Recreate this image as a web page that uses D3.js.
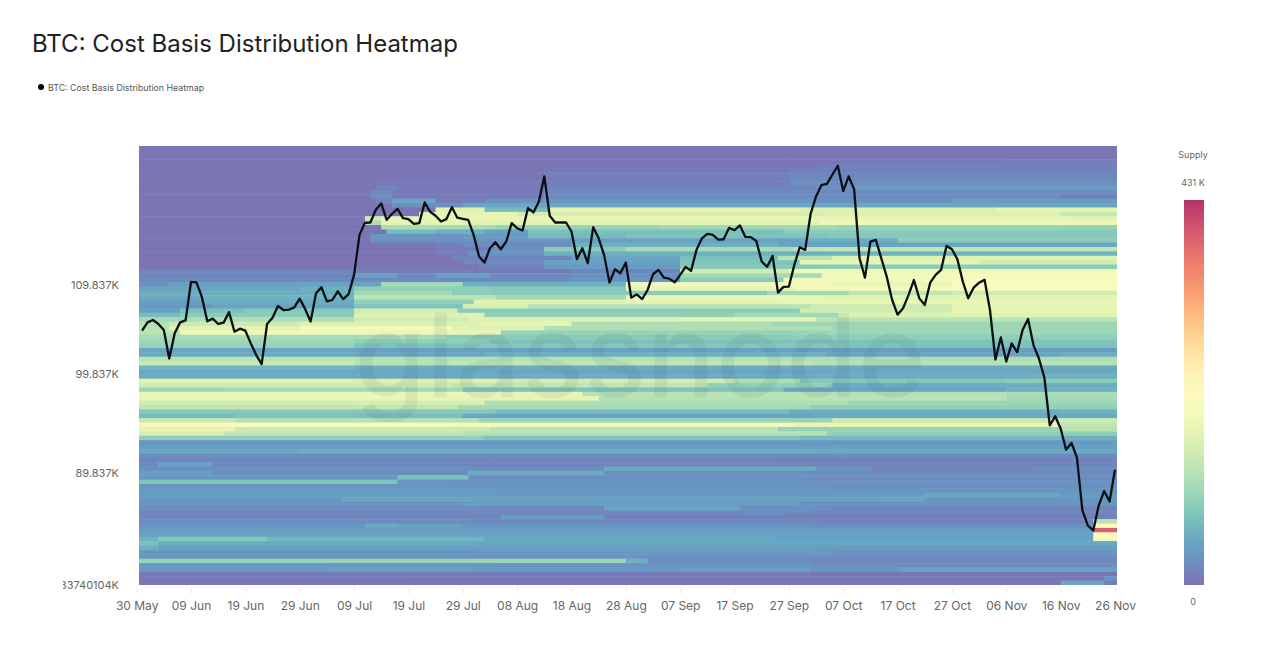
<!DOCTYPE html>
<html>
<head>
<meta charset="utf-8">
<title>BTC: Cost Basis Distribution Heatmap</title>
<script src="https://cdn.jsdelivr.net/npm/d3@7"></script>
<style>
  body { margin: 0; background: #fff; }
  svg { display: block; font-family: Inter, "Noto Sans", sans-serif; }
</style>
</head>
<body>
<svg id="chart" width="1280" height="651"></svg>
<script>
const chartTitle = "BTC: Cost Basis Distribution Heatmap";

// Daily BTC price in thousands of USD, one value per day from 31 May 2025 to 26 Nov 2025.
const priceK = [
	104.61, 105.54, 105.81, 105.36, 104.68, 101.55, 104.31, 105.54, 105.77, 110.19,
	110.15, 108.45, 105.66, 105.96, 105.36, 105.51, 106.70, 104.50, 104.83, 104.61,
	103.20, 101.92, 100.94, 105.36, 106.07, 107.40, 106.94, 106.98, 107.24, 108.25,
	107.05, 105.62, 108.86, 109.57, 107.93, 108.09, 109.10, 108.20, 108.78, 111.02,
	115.87, 117.37, 117.41, 119.02, 119.83, 117.75, 118.51, 119.14, 117.96, 117.84,
	117.25, 117.33, 119.95, 118.76, 118.26, 117.54, 117.84, 119.35, 118.01, 117.88,
	117.75, 115.87, 113.22, 112.50, 114.23, 114.97, 114.11, 115.05, 117.33, 116.70,
	116.41, 119.23, 118.68, 120.08, 123.33, 118.26, 117.41, 117.41, 117.41, 116.29,
	112.90, 114.23, 112.42, 116.83, 115.45, 113.42, 110.11, 111.70, 111.22, 112.50,
	108.36, 108.74, 108.20, 109.25, 111.10, 111.62, 110.70, 110.58, 110.15, 111.02,
	111.98, 111.50, 114.03, 115.45, 116.00, 115.87, 115.29, 115.33, 116.74, 116.45,
	117.04, 115.62, 115.58, 115.13, 112.62, 111.98, 113.30, 108.94, 109.61, 109.65,
	112.22, 114.35, 114.03, 118.51, 120.72, 122.19, 122.36, 123.55, 124.74, 121.41,
	123.33, 121.67, 113.02, 110.70, 115.05, 115.25, 113.02, 110.82, 108.09, 106.41,
	107.13, 108.66, 110.42, 108.28, 107.51, 110.11, 111.02, 111.62, 114.51, 114.11,
	112.90, 110.23, 108.28, 109.53, 110.11, 110.46, 106.94, 101.44, 103.86, 101.22,
	103.20, 102.24, 104.68, 105.92, 103.01, 101.55, 99.52, 94.56, 95.48, 94.23,
	92.13, 92.79, 91.35, 86.35, 84.97, 84.52, 86.80, 88.15, 87.18, 90.19
];

// Supply per cost basis bin in thousands, top bin first.
// Each row lists pairs: day since 30 May where a level starts, then that level.
const supplyRows = [
	[0,2,160,5],
	[0,2],
	[0,2,120,4],
	[0,2,130,8,160,12],
	[0,2,68,3,125,14],
	[0,2,75,6,120,16],
	[0,2,75,12,118,20],
	[0,2,44,4,75,13,120,22],
	[0,2,44,8,70,12,120,28],
	[0,2,44,18,48,6,75,20,125,30,132,44],
	[0,2,43,22,47,8,75,22,130,26],
	[0,2,43,24,47,8,75,22,125,24,170,14],
	[0,2,44,18,47,50,55,12,64,30,75,34,125,30,150,42],
	[0,2,47,28,60,50,127,48],
	[0,2,55,165,64,70,76,170,122,160,158,170],
	[0,2,52,170,70,155,127,160,170,140],
	[0,2,42,150,45,175,119,175,172,165],
	[0,2,42,120,45,170,126,185],
	[0,2,45,115,66,100,96,108,129,100],
	[0,2,46,70,55,60,64,45,72,75,119,90,170,85],
	[0,2,43,35,55,30,60,40,72,70,90,80,127,85],
	[0,2,43,25,55,30,66,35,80,45,122,55,140,90],
	[0,2,44,10,55,14,60,25,80,60,118,48],
	[0,2,55,10,65,30,75,90,90,115,121,135],
	[0,2,55,10,61,30,75,60,126,62],
	[0,2,58,20,80,50,100,75,118,130,128,165],
	[0,2,60,22,75,45,100,80,122,170,155,150],
	[0,2,63,18,75,40,100,85,127,90],
	[0,18,40,12,62,8,80,20,100,150,120,185],
	[0,20,40,45,48,22,55,45,65,22,80,30,100,110,126,190,150,200],
	[0,22,40,25,80,35,100,90,119,190,150,210],
	[0,30,6,45,45,110,60,60,90,190,128,180,150,205],
	[0,50,30,60,40,95,65,85,90,170,121,190,150,200],
	[0,58,40,110,58,90,116,110,131,135,150,150],
	[0,52,12,62,40,130,66,110,90,180,126,170],
	[0,42,12,55,40,95,62,165,92,170,119,175],
	[0,38,14,48,40,80,60,155,72,130,124,145,150,170],
	[0,45,8,75,20,85,40,150,59,90,122,150,150,175],
	[0,72,8,90,40,165,64,95,110,110,129,165],
	[0,110,10,120,40,150,61,165,100,170,125,130],
	[0,125,6,145,30,160,63,170,80,120,117,105],
	[0,130,6,170,30,190,58,165,75,120,128,105],
	[0,130,8,185,34,180,67,100,123,105],
	[0,115,57,90,120,95],
	[0,105,40,95,65,80],
	[0,100,40,80,60,85,130,80],
	[0,48,40,45,121,42],
	[0,52,40,50,64,60,127,48,170,55],
	[0,130,40,125,118,120],
	[0,140,40,130,58,135,124,125],
	[0,65,40,55,129,52],
	[0,52,66,50,124,52],
	[0,52,60,55,165,60],
	[0,165,40,160,66,150,110,120,122,85,160,90],
	[0,150,58,135,105,95,128,55],
	[0,105,16,110,60,80,119,50,160,60],
	[0,180,68,175,82,130,126,125,160,115],
	[0,175,56,170,85,125,121,130,160,110],
	[0,150,40,155,64,120,131,105],
	[0,135,59,112,124,95],
	[0,85,66,70,120,55,170,60],
	[0,70,18,80,40,75,60,48,124,52],
	[0,140,18,125,63,100,128,145],
	[0,225,20,200,57,190,121,175,170,135],
	[0,170,18,145,65,130,118,100,170,130],
	[0,160,16,135,60,125,127,95],
	[0,95,64,80,122,70,170,60],
	[0,36,120,38],
	[0,40,128,44],
	[0,52,30,58,124,54],
	[0,26,58,24,130,25],
	[0,21,66,19,118,17],
	[0,23,4,46,14,21,60,19,126,15],
	[0,29,62,24,86,52,125,33,135,18,165,28],
	[0,42,14,24,61,54,86,28,124,23],
	[0,34,48,75,61,29,124,25],
	[0,80,48,34,122,32],
	[0,34,58,32,127,28],
	[0,40,66,33],
	[0,40,145,50,170,40],
	[0,35,38,48,62,44,137,50,145,34],
	[0,36,60,42,121,34],
	[0,24,64,22,86,48,111,29,128,19],
	[0,20,58,18,111,24,124,18],
	[0,19,67,42,86,16,119,14],
	[0,26,62,20,126,16,176,130],
	[0,34,42,52,48,46,60,34,124,29,176,205],
	[0,40,176,390],
	[0,44,176,210],
	[0,62,4,85,24,64,64,50,118,45,176,190],
	[0,75,4,54,62,49],
	[0,60,4,46,58,44,124,42],
	[0,36,128,32],
	[0,34,62,32,120,26],
	[0,100,62,105,90,60,94,28,124,22],
	[0,36,66,32,124,24],
	[0,38,35,42,62,38,100,42,124,34,140,45],
	[0,8,124,4],
	[0,5,50,4,178,35],
	[0,5,170,50,178,8]
];

const xTickDays = d3.range(0, 181, 10);
const yTickValues = [109.837, 99.837, 89.837, 79.74];
const yTickLabels = ["109.837K", "99.837K", "89.837K", "83740104K"];
const supplyMax = 431;
const supplyLabels = ["431 K", "0"];

const plot = { left: 139, right: 1117, top: 146, bottom: 585 };
const startDate = new Date(Date.UTC(2025, 4, 30));
const dayToDate = d => d3.utcDay.offset(startDate, d);

const svg = d3.select("#chart");

// 30 May falls a little left of the plot, the heatmap is clipped to the plot box.
const x = d3.scaleUtc()
	.domain([startDate, dayToDate(180)])
	.range([136.65, 1115]);
const y = d3.scaleLog()
	.domain([79.74, 127.4])
	.range([plot.bottom, plot.top]);
const rowBand = d3.scaleBand()
	.domain(d3.range(supplyRows.length))
	.range([plot.top, plot.bottom]);
const color = d3.scaleSequential(t => d3.interpolateSpectral(1 - t))
	.domain([0, supplyMax]);

const defs = svg.append("defs");
defs.append("clipPath").attr("id", "plotClip")
	.append("rect")
	.attr("x", plot.left).attr("y", plot.top)
	.attr("width", plot.right - plot.left).attr("height", plot.bottom - plot.top);
defs.append("clipPath").attr("id", "labelClip")
	.append("rect")
	.attr("x", 63).attr("y", 270)
	.attr("width", 70).attr("height", 330);
defs.append("filter").attr("id", "soft")
	.attr("x", "-1%").attr("y", "-1%").attr("width", "102%").attr("height", "102%")
	.append("feGaussianBlur").attr("stdDeviation", 0.7);

svg.append("text")
	.attr("x", 32).attr("y", 52)
	.attr("font-size", 24)
	.attr("fill", "#222")
	.text(chartTitle);

// legend
svg.append("circle")
	.attr("cx", 41).attr("cy", 87).attr("r", 3)
	.attr("fill", "#000");
svg.append("text")
	.attr("x", 48).attr("y", 90.5)
	.attr("font-size", 8.8)
	.attr("fill", "#555")
	.text(chartTitle);

// heatmap cells, one rect per run of a row
const runs = supplyRows.flatMap((row, r) => {
	const out = [];
	for (let i = 0; i < row.length; i += 2) {
		out.push({
			row: r,
			start: row[i],
			end: i + 2 < row.length ? row[i + 2] : 181,
			value: row[i + 1]
		});
	}
	return out;
});

svg.append("g")
	.attr("clip-path", "url(#plotClip)")
	.append("g")
	.attr("opacity", 0.8)
	.attr("filter", "url(#soft)")
	.selectAll("rect")
	.data(runs)
	.join("rect")
	.attr("x", d => x(dayToDate(d.start)))
	.attr("y", d => rowBand(d.row))
	.attr("width", d => x(dayToDate(d.end)) - x(dayToDate(d.start)) + 0.5)
	.attr("height", rowBand.bandwidth() + 0.5)
	.attr("fill", d => color(d.value));

// watermark
svg.append("text")
	.attr("x", 640).attr("y", 397)
	.attr("text-anchor", "middle")
	.attr("font-size", 116)
	.attr("font-weight", 500)
	.attr("fill", "#3d5f78")
	.attr("opacity", 0.09)
	.text("glassnode");

// price line
const line = d3.line()
	.x((d, i) => x(dayToDate(i + 1)))
	.y(d => y(d));
svg.append("path")
	.datum(priceK)
	.attr("fill", "none")
	.attr("stroke", "#0c0f14")
	.attr("stroke-width", 2.3)
	.attr("stroke-linejoin", "round")
	.attr("d", line);

// axes
const xAxis = svg.append("g")
	.attr("transform", `translate(0,${plot.bottom + 3})`)
	.call(d3.axisBottom(x)
		.tickValues(xTickDays.map(dayToDate))
		.tickFormat(d3.utcFormat("%d %b"))
		.tickSize(6)
		.tickPadding(7));
xAxis.select(".domain").remove();
xAxis.selectAll("line").attr("stroke", "#eee");
xAxis.selectAll("text")
	.attr("font-size", 12)
	.attr("font-family", "Inter, sans-serif")
	.attr("fill", "#666");

const yAxis = svg.append("g")
	.attr("clip-path", "url(#labelClip)")
	.append("g")
	.attr("transform", `translate(${plot.left},0)`)
	.call(d3.axisLeft(y)
		.tickValues(yTickValues)
		.tickFormat((d, i) => yTickLabels[i])
		.tickSize(0)
		.tickPadding(20));
yAxis.select(".domain").remove();
yAxis.selectAll("text")
	.attr("font-size", 11)
	.attr("font-family", "Inter, sans-serif")
	.attr("fill", "#666");

// colour bar
const bar = { x: 1184, width: 20, top: 200, bottom: 585 };
const gradient = defs.append("linearGradient")
	.attr("id", "supplyGradient")
	.attr("x1", 0).attr("x2", 0).attr("y1", 1).attr("y2", 0);
gradient.selectAll("stop")
	.data(d3.range(0, 1.0001, 0.05))
	.join("stop")
	.attr("offset", d => d)
	.attr("stop-color", d => color(d * supplyMax));
svg.append("rect")
	.attr("x", bar.x).attr("y", bar.top)
	.attr("width", bar.width).attr("height", bar.bottom - bar.top)
	.attr("fill", "url(#supplyGradient)")
	.attr("opacity", 0.8);

const barLabels = [
	{ text: "Supply", y: 158 },
	{ text: supplyLabels[0], y: 186 },
	{ text: supplyLabels[1], y: 605 }
];
svg.append("g")
	.selectAll("text")
	.data(barLabels)
	.join("text")
	.attr("x", bar.x + 9)
	.attr("y", d => d.y)
	.attr("text-anchor", "middle")
	.attr("font-size", 9)
	.attr("fill", "#666")
	.text(d => d.text);
</script>
</body>
</html>
